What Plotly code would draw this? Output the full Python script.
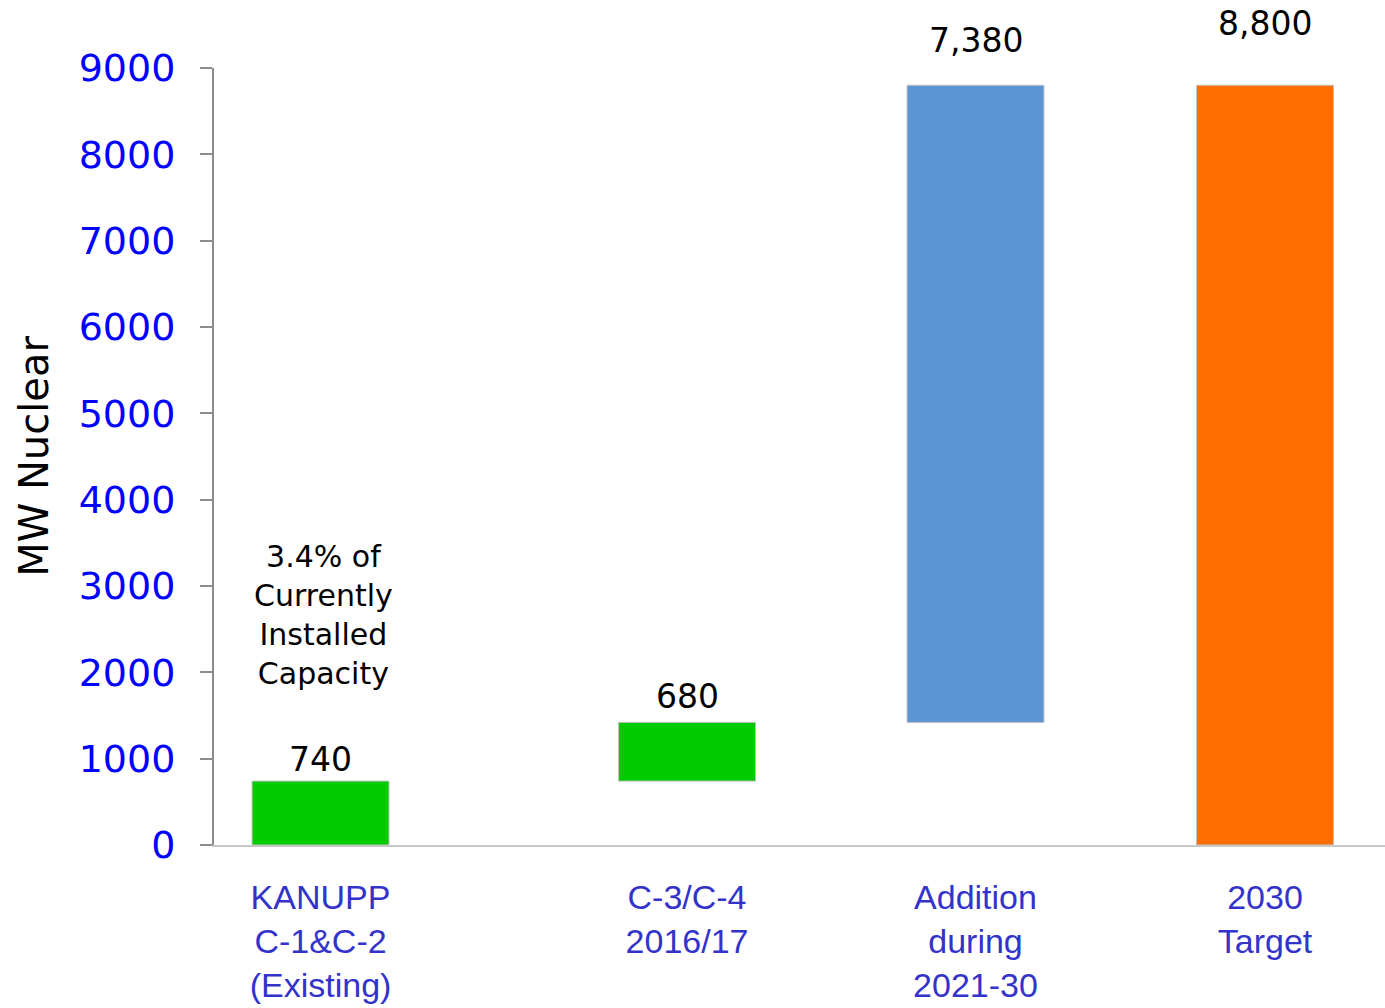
import plotly.graph_objects as go

# ---- data ----
categories = ["KANUPP<br>C-1&C-2<br>(Existing)", "C-3/C-4<br>2016/17",
              "Addition<br>during<br>2021-30", "2030<br>Target"]
increments = [740, 680, 7380, 8800]
is_total = [False, False, False, True]
value_labels = ["740", "680", "7,380", "8,800"]
note_text = "3.4% of<br>Currently<br>Installed<br>Capacity"
y_ticks = [0, 1000, 2000, 3000, 4000, 5000, 6000, 7000, 8000, 9000]

# ---- layout / style constants ----
slot_pos = [0, 1.266, 2.2625, 3.2625]       # horizontal slot of each bar
bar_colors = ["#00CC00", "#00CC00", "#5B95D5", "#FF6F00"]
label_shift = [0, 4, 23, 40]

# bases of waterfall-like bars
bases = []
running = 0
for inc, tot in zip(increments, is_total):
    if tot:
        bases.append(0)
        running = inc
    else:
        bases.append(running)
        running += inc

fig = go.Figure()
fig.add_trace(go.Bar(
    x=slot_pos, y=increments, base=bases, width=0.473,
    marker=dict(color=bar_colors, line=dict(color="#BFBFBF", width=1)),
    hoverinfo="skip", showlegend=False,
))

for xp, b, inc, lab, sh in zip(slot_pos, bases, increments, value_labels, label_shift):
    fig.add_annotation(x=xp, y=b + inc, text=lab, showarrow=False,
                       yanchor="bottom", yshift=sh,
                       font=dict(family="DejaVu Sans", size=33, color="black"))

fig.add_annotation(x=slot_pos[0], y=bases[0] + increments[0], text=note_text,
                   showarrow=False, yanchor="bottom", yshift=88, xshift=3,
                   font=dict(family="DejaVu Sans", size=30, color="black"))

fig.update_layout(
    width=1385, height=1008,
    margin=dict(l=214, r=0, t=68, b=163),
    plot_bgcolor="white", paper_bgcolor="white",
    xaxis=dict(range=[-0.368, 3.677], tickvals=slot_pos, ticktext=categories,
               showline=True, linecolor="#C8C8C8", linewidth=2,
               showgrid=False, zeroline=False, ticks="", automargin=False,
               tickfont=dict(family="Liberation Sans, Arial", size=34, color="#3333CC"),
               ticklabelstandoff=21),
    yaxis=dict(range=[0, 9000], tickvals=y_ticks,
               showline=True, linecolor="#8C8C8C", linewidth=2,
               ticks="outside", ticklen=12, tickcolor="#8C8C8C", tickwidth=2,
               showgrid=False, zeroline=False, automargin=False,
               tickfont=dict(family="DejaVu Sans", size=38, color="#0000FF"),
               ticklabelstandoff=17,
               title=dict(text="MW Nuclear", standoff=18,
                          font=dict(family="DejaVu Sans", size=40, color="black"))),
)

fig.write_html("out.html")
